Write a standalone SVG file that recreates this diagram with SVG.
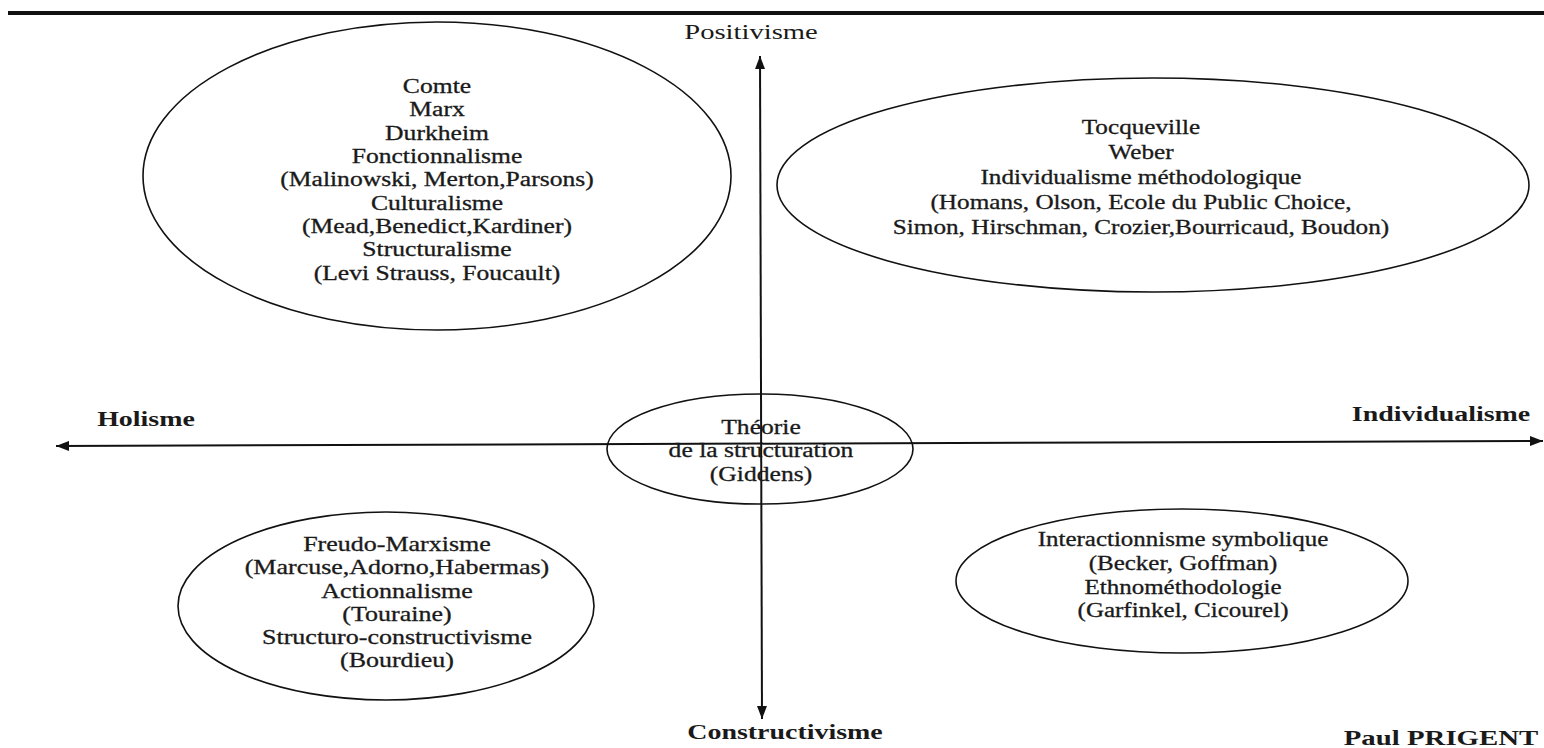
<svg xmlns="http://www.w3.org/2000/svg" width="1544" height="748" viewBox="0 0 1544 748">
<style>
.t{font-family:"Liberation Serif","Times New Roman",serif;font-size:20px;fill:#1a1a1a;stroke:#1a1a1a;stroke-width:0.3;text-anchor:middle}
.p{font-family:"Liberation Serif","Times New Roman",serif;font-size:22px;fill:#1a1a1a;text-anchor:middle}
.b{font-family:"Liberation Serif","Times New Roman",serif;font-size:22px;font-weight:bold;fill:#1a1a1a;text-anchor:middle}
.e{fill:none;stroke:#111;stroke-width:1.6}
.ax{stroke:#111;stroke-width:2;fill:none}
</style>
<defs>
<marker id="ah" markerUnits="userSpaceOnUse" markerWidth="14" markerHeight="10" refX="13" refY="5" orient="auto-start-reverse">
<path d="M0,0 L13,5 L0,10 Z" fill="#111"/>
</marker>
</defs>
<rect width="1544" height="748" fill="#fff"/>
<line x1="8" y1="13" x2="1544" y2="13" stroke="#111" stroke-width="4"/>
<g id="connectors">
<line class="ax" x1="760" y1="56" x2="762" y2="719" marker-start="url(#ah)" marker-end="url(#ah)"/>
<line class="ax" x1="56" y1="446" x2="1543" y2="441" marker-start="url(#ah)" marker-end="url(#ah)"/>
</g>
<g id="positivisme"><g transform="translate(751,0) scale(1.3,1)"><text class="p" x="0" y="39">Positivisme</text></g></g>
<g id="holisme"><g transform="translate(146,0) scale(1.27,1)"><text class="b" x="0" y="426">Holisme</text></g></g>
<g id="individualisme"><g transform="translate(1441,0) scale(1.27,1)"><text class="b" x="0" y="421">Individualisme</text></g></g>
<g id="constructivisme"><g transform="translate(785,0) scale(1.27,1)"><text class="b" x="0" y="739">Constructivisme</text></g></g>
<g id="auteur"><g transform="translate(1441,0) scale(1.31,1)"><text class="b" x="0" y="745">Paul PRIGENT</text></g></g>
<g id="node-holisme-positivisme">
<ellipse class="e" cx="437" cy="176" rx="294" ry="154"/>
<g transform="translate(437,0) scale(1.28,1)">
<text class="t" x="0" y="93">Comte</text>
<text class="t" x="0" y="116">Marx</text>
<text class="t" x="0" y="140">Durkheim</text>
<text class="t" x="0" y="163">Fonctionnalisme</text>
<text class="t" x="0" y="186">(Malinowski, Merton,Parsons)</text>
<text class="t" x="0" y="210">Culturalisme</text>
<text class="t" x="0" y="233">(Mead,Benedict,Kardiner)</text>
<text class="t" x="0" y="256">Structuralisme</text>
<text class="t" x="0" y="280">(Levi Strauss, Foucault)</text>
</g>
</g>
<g id="node-individualisme-positivisme">
<ellipse class="e" cx="1153" cy="185" rx="376" ry="107"/>
<g transform="translate(1141,0) scale(1.26,1)">
<text class="t" x="0" y="134">Tocqueville</text>
<text class="t" x="0" y="159">Weber</text>
<text class="t" x="0" y="184">Individualisme méthodologique</text>
<text class="t" x="0" y="209">(Homans, Olson, Ecole du Public Choice,</text>
<text class="t" x="0" y="234">Simon, Hirschman, Crozier,Bourricaud, Boudon)</text>
</g>
</g>
<g id="node-giddens">
<ellipse class="e" cx="760" cy="449" rx="153" ry="55"/>
<g transform="translate(761,0) scale(1.28,1)">
<text class="t" x="0" y="434">Théorie</text>
<text class="t" x="0" y="457">de la structuration</text>
<text class="t" x="0" y="481">(Giddens)</text>
</g>
</g>
<g id="node-holisme-constructivisme">
<ellipse class="e" cx="386" cy="606" rx="208" ry="94"/>
<g transform="translate(397,0) scale(1.3,1)">
<text class="t" x="0" y="551">Freudo-Marxisme</text>
<text class="t" x="0" y="574">(Marcuse,Adorno,Habermas)</text>
<text class="t" x="0" y="598">Actionnalisme</text>
<text class="t" x="0" y="621">(Touraine)</text>
<text class="t" x="0" y="644">Structuro-constructivisme</text>
<text class="t" x="0" y="667">(Bourdieu)</text>
</g>
</g>
<g id="node-individualisme-constructivisme">
<ellipse class="e" cx="1182" cy="581" rx="226" ry="72"/>
<g transform="translate(1183,0) scale(1.25,1)">
<text class="t" x="0" y="546">Interactionnisme symbolique</text>
<text class="t" x="0" y="570">(Becker, Goffman)</text>
<text class="t" x="0" y="594">Ethnométhodologie</text>
<text class="t" x="0" y="617">(Garfinkel, Cicourel)</text>
</g>
</g>
</svg>
